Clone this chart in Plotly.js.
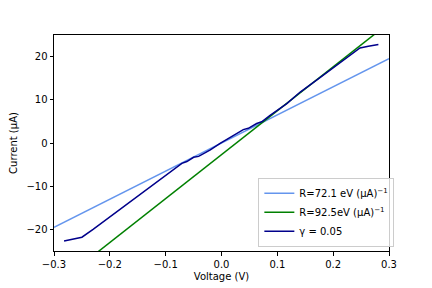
<!DOCTYPE html>
<html>
<head>
<meta charset="utf-8">
<script src="https://cdn.plot.ly/plotly-3.0.1.min.js"></script>
<style>html,body{margin:0;padding:0;background:#fff;}#chart{width:432px;height:288px;}</style>
</head>
<body>
<div id="chart"></div>
<script>
// Linear fit lines (endpoints)
const fit1X = [-0.3, 0.3];
const fit1Y = [-19.5, 19.5];
const fit2X = [-0.3, 0.3];
const fit2Y = [-33.2, 27.8];
// Measured curve
const measX = [-0.282, -0.250, -0.230, -0.206, -0.182, -0.158, -0.131, -0.116, -0.092, -0.071, -0.062, -0.050, -0.041, -0.020, -0.0025, 0.015, 0.021, 0.039, 0.048, 0.063, 0.072, 0.087, 0.117, 0.141, 0.177, 0.213, 0.236, 0.248, 0.263, 0.281];
const measY = [-22.7, -21.8, -20.0, -17.7, -15.4, -13.1, -10.4, -8.9, -6.6, -4.7, -4.3, -3.3, -3.1, -1.6, -0.1, 1.3, 1.6, 3.1, 3.4, 4.5, 4.9, 6.4, 9.1, 11.8, 15.2, 18.7, 21.0, 22.0, 22.4, 22.8];
const names = ["R=72.1 eV (μA)<sup>−1</sup>", "R=92.5eV (μA)<sup>−1</sup>", "γ = 0.05"];
const xTicks = [-0.3, -0.2, -0.1, 0.0, 0.1, 0.2, 0.3];
const xTickText = ["−0.3", "−0.2", "−0.1", "0.0", "0.1", "0.2", "0.3"];
const yTicks = [-20, -10, 0, 10, 20];
const yTickText = ["−20", "−10", "0", "10", "20"];

const font = {family: "DejaVu Sans", size: 10, color: "#000"};
const traces = [
  {x: fit1X, y: fit1Y, mode: "lines", name: names[0], line: {color: "#6495ED", width: 1.5}},
  {x: fit2X, y: fit2Y, mode: "lines", name: names[1], line: {color: "#008000", width: 1.5}},
  {x: measX, y: measY, mode: "lines", name: names[2], line: {color: "#00008B", width: 1.5}}
];
const axisCommon = {
  showgrid: false, zeroline: false, showline: true, linecolor: "#000", linewidth: 1,
  mirror: true, ticks: "outside", ticklen: 3.5, tickwidth: 1, tickcolor: "#000",
  tickfont: font, tickmode: "array"
};
const layout = {
  width: 432, height: 288,
  margin: {l: 54, r: 43, t: 35, b: 37},
  paper_bgcolor: "#fff", plot_bgcolor: "#fff",
  font: font,
  showlegend: true,
  xaxis: Object.assign({}, axisCommon, {range: [-0.3, 0.3], tickvals: xTicks, ticktext: xTickText,
    title: {text: "Voltage (V)", font: font, standoff: 4}}),
  yaxis: Object.assign({}, axisCommon, {range: [-25, 25], tickvals: yTicks, ticktext: yTickText,
    title: {text: "Current (μA)", font: font, standoff: 6}}),
  legend: {x: 0.61, y: 0.02, xanchor: "left", yanchor: "bottom", bgcolor: "rgba(255,255,255,0.8)",
    bordercolor: "#ccc", borderwidth: 1, font: font, itemwidth: 30, tracegroupgap: 0}
};
Plotly.newPlot("chart", traces, layout, {staticPlot: true, displayModeBar: false});
</script>
</body>
</html>
